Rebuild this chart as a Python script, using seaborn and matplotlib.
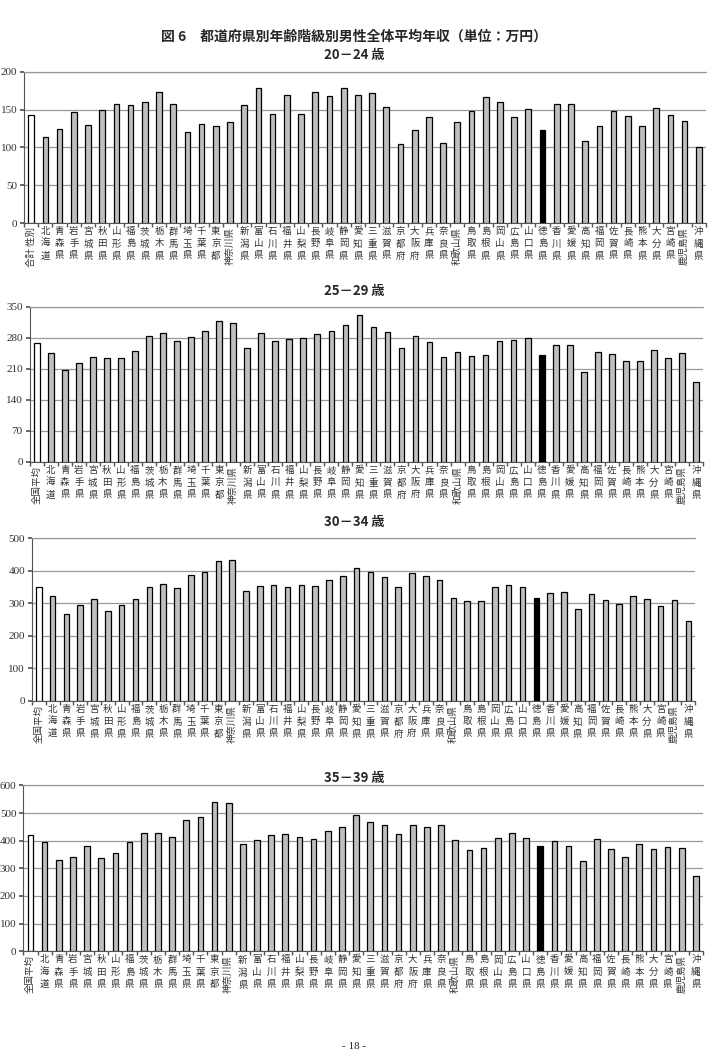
import numpy as np
import pandas as pd
import matplotlib
matplotlib.use("Agg")
import matplotlib.pyplot as plt
import seaborn as sns

sns.set_theme(style="white")
plt.rcParams['font.family'] = ['Noto Sans CJK JP', 'DejaVu Sans']

prefs = ["北海道", "青森県", "岩手県", "宮城県", "秋田県", "山形県", "福島県", "茨城県",
         "栃木県", "群馬県", "埼玉県", "千葉県", "東京都", "神奈川県", "新潟県", "富山県",
         "石川県", "福井県", "山梨県", "長野県", "岐阜県", "静岡県", "愛知県", "三重県",
         "滋賀県", "京都府", "大阪府", "兵庫県", "奈良県", "和歌山県", "鳥取県", "島根県",
         "岡山県", "広島県", "山口県", "徳島県", "香川県", "愛媛県", "高知県", "福岡県",
         "佐賀県", "長崎県", "熊本県", "大分県", "宮崎県", "鹿児島県", "沖縄県"]

first_labels = ["合計 性別", "全国平均", "全国平均", "全国平均"]
panel_titles = ["20－24 歳", "25－29 歳", "30－34 歳", "35－39 歳"]

vals_20_24 = [143, 114, 124, 147, 130, 149, 158, 156, 160, 174, 158, 121, 131, 128, 134, 156,
              179, 144, 169, 144, 174, 168, 179, 169, 172, 154, 105, 123, 140, 106, 134, 148,
              167, 160, 140, 151, 123, 157, 158, 109, 128, 148, 142, 128, 152, 143, 135, 101]
vals_25_29 = [267, 245, 206, 222, 236, 233, 234, 249, 283, 290, 273, 281, 296, 318, 313, 257,
              291, 272, 277, 280, 288, 296, 308, 330, 303, 293, 257, 283, 271, 236, 248, 239,
              240, 273, 275, 279, 240, 264, 263, 202, 248, 242, 227, 227, 251, 233, 246, 181]
vals_30_34 = [348, 321, 268, 294, 312, 275, 293, 314, 351, 359, 346, 387, 396, 429, 432, 336,
              353, 357, 350, 355, 352, 370, 383, 409, 395, 380, 348, 394, 383, 371, 316, 306,
              307, 349, 355, 348, 317, 331, 334, 282, 329, 310, 298, 322, 313, 291, 310, 245]
vals_35_39 = [419, 396, 329, 340, 379, 336, 357, 394, 426, 426, 412, 476, 487, 541, 537, 388,
              402, 420, 424, 414, 407, 436, 448, 494, 466, 457, 424, 457, 448, 457, 404, 367,
              373, 410, 429, 411, 382, 398, 379, 325, 407, 370, 341, 387, 369, 376, 372, 273]

all_vals = [vals_20_24, vals_25_29, vals_30_34, vals_35_39]
y_max = [200, 350, 500, 600]
y_step = [50, 70, 100, 100]

# axes rectangles [left, bottom, width, height] in figure fraction
rects = [[0.034, 0.789, 0.963, 0.143],
         [0.042, 0.563, 0.951, 0.147],
         [0.045, 0.337, 0.937, 0.154],
         [0.033, 0.100, 0.960, 0.157]]
title_y = [0.948, 0.725, 0.506, 0.264]

fig = plt.figure(figsize=(7.08, 10.57), dpi=100)
fig.text(0.5, 0.965, "図 6　都道府県別年齢階級別男性全体平均年収（単位：万円）",
         ha="center", va="center", fontsize=10, fontweight="bold")

for i in range(4):
    cats = [first_labels[i]] + prefs
    df = pd.DataFrame({"cat": cats, "val": all_vals[i]})
    colors = {c: "#bfbfbf" for c in cats}
    colors[cats[0]] = "white"
    colors["徳島県"] = "black"
    ax = fig.add_axes(rects[i])
    sns.barplot(data=df, x="cat", y="val", hue="cat", palette=colors, order=cats,
                hue_order=cats, legend=False, width=0.4, edgecolor="black",
                linewidth=0.9, ax=ax, zorder=3)
    ax.set_xlim(-0.5, len(cats) - 0.5)
    ax.set_ylim(0, y_max[i])
    ticks = np.arange(0, y_max[i] + 1, y_step[i])
    ax.set_yticks(ticks)
    ax.set_yticklabels([str(t) for t in ticks], fontsize=8, family="Liberation Serif",
                       color="#333333")
    ax.yaxis.grid(True, color="#999999", linewidth=0.9, zorder=0)
    ax.set_axisbelow(True)
    ax.spines["right"].set_visible(False)
    ax.spines["top"].set_color("#999999")
    ax.spines["top"].set_linewidth(0.9)
    ax.spines["left"].set_color("#555555")
    ax.spines["bottom"].set_color("#555555")
    ax.spines["left"].set_linewidth(0.8)
    ax.spines["bottom"].set_linewidth(0.8)
    ax.set_xlabel("")
    ax.set_ylabel("")
    # x labels
    ax.set_xticks(range(len(cats)))
    labs = []
    for c in cats:
        if len(c) <= 3:
            labs.append("\n".join(list(c)))
        else:
            labs.append(c)
    ax.set_xticklabels(labs, fontsize=6.8, color="#333333")
    for lbl, c in zip(ax.get_xticklabels(), cats):
        if len(c) > 3:
            lbl.set_rotation(90)
        else:
            lbl.set_linespacing(1.45)
    ax.tick_params(axis="x", which="major", length=0, pad=3)
    ax.set_xticks(np.arange(-0.5, len(cats), 1), minor=True)
    ax.tick_params(axis="x", which="minor", length=3, direction="out", color="#555555",
                   bottom=True)
    ax.tick_params(axis="y", which="major", length=3, direction="out", color="#555555",
                   left=True, pad=2)
    fig.text(0.5, title_y[i], panel_titles[i], ha="center", va="center",
             fontsize=9.5, fontweight="bold")

fig.text(0.5, 0.006, "- 18 -", ha="center", va="bottom", fontsize=8,
         family="Liberation Serif")

fig.savefig("out.png", dpi=100, facecolor="white")
